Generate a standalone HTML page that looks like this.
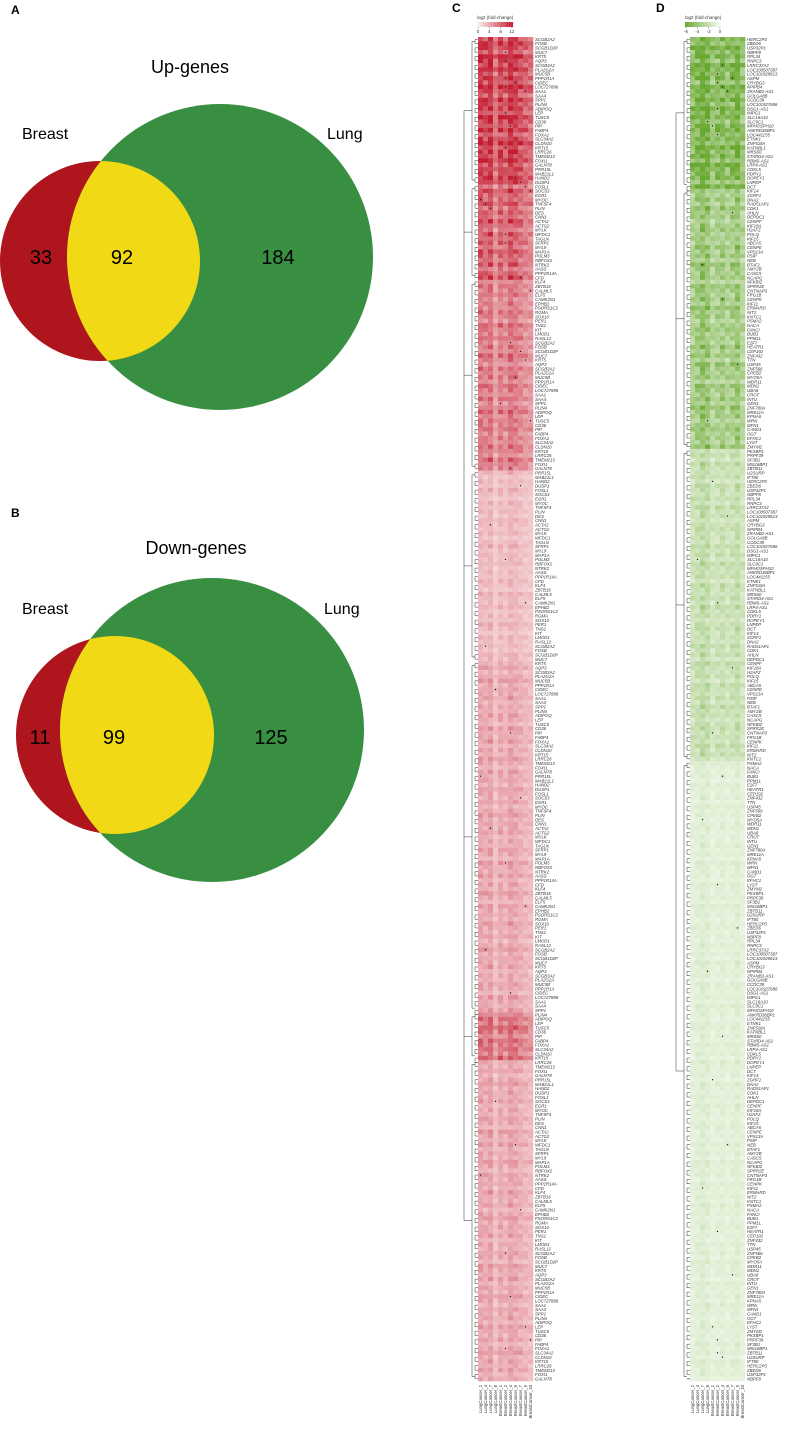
<!DOCTYPE html>
<html><head><meta charset="utf-8"><style>
body{margin:0;background:#fff;width:792px;height:1429px;overflow:hidden;font-family:"Liberation Sans",sans-serif}
svg{display:block}
</style></head><body>
<svg id="fig" width="792" height="1429" viewBox="0 0 792 1429" xmlns="http://www.w3.org/2000/svg">
<g>
<text x="11" y="14" font-size="12" font-weight="bold">A</text>
<text x="190" y="73" font-size="18" text-anchor="middle">Up-genes</text>
<circle cx="100" cy="261" r="100" fill="#ae151d"/>
<circle cx="220" cy="257" r="153" fill="#388f41"/>
<clipPath id="cA"><circle cx="100" cy="261" r="100"/></clipPath>
<circle cx="220" cy="257" r="153" fill="#f1d915" clip-path="url(#cA)"/>
<text x="22" y="139" font-size="16">Breast</text>
<text x="327" y="139" font-size="16">Lung</text>
<text x="41" y="264" font-size="20" text-anchor="middle">33</text>
<text x="122" y="264" font-size="20" text-anchor="middle">92</text>
<text x="278" y="264" font-size="20" text-anchor="middle">184</text>
</g>
<g>
<text x="11" y="517" font-size="12" font-weight="bold">B</text>
<text x="196" y="554" font-size="18" text-anchor="middle">Down-genes</text>
<circle cx="115" cy="735" r="99" fill="#ae151d"/>
<circle cx="212" cy="730" r="152" fill="#388f41"/>
<clipPath id="cB"><circle cx="115" cy="735" r="99"/></clipPath>
<circle cx="212" cy="730" r="152" fill="#f1d915" clip-path="url(#cB)"/>
<text x="22" y="614" font-size="16">Breast</text>
<text x="324" y="614" font-size="16">Lung</text>
<text x="40" y="744" font-size="20" text-anchor="middle">11</text>
<text x="114" y="744" font-size="20" text-anchor="middle">99</text>
<text x="271" y="744" font-size="20" text-anchor="middle">125</text>
</g>
<text x="452" y="12" font-size="12" font-weight="bold">C</text>
<text x="656" y="12" font-size="12" font-weight="bold">D</text>
<g id="hmC"></g>
<g id="hmD"></g>
</svg>
<script>
const columns=["LungCancer_1","LungCancer_4","LungCancer_7","LungCancer_8","BreastCancer_1","BreastCancer_2","BreastCancer_4","BreastCancer_5","BreastCancer_7","BreastCancer_9","BreastCancer_10"];
const upSegments=[[34,10],[22,8],[44,6.5],[44,3],[81,4],[11,7],[74,4]];
const upColBias=[1.05,0.95,1.1,0.7,1.0,0.85,1.1,1.0,0.9,0.8,0.75];
const upRowVar=[0.9,1.1,1.0,0.8,1.2,1.0,0.95,1.15,0.85,1.05,0.9,1.2,1.0,0.8,1.1,0.95,1.05,0.85,1.15,1.0,0.9,1.1,0.8,1.0,1.2,0.9,1.05,0.95,1.1,0.85,1.0];
const upCellVar=[1.0,0.85,1.15,0.95,1.1,0.8,1.05,1.2,0.9,1.0,0.88,1.12,0.97];
const downSegments=[[35,-5],[60,-3.5],[72,-2],[143,-0.9]];
const downColBias=[0.9,1.0,1.2,1.1,0.8,0.9,1.0,0.85,0.95,1.1,0.8];
const downRowVar=[1.0,0.85,1.15,0.9,1.1,0.8,1.2,1.0,0.95,1.05,0.75,1.15,1.0,0.9,1.1,0.85,1.2,0.95,1.05,0.8,1.0,1.1,0.9];
const downCellVar=[1.0,0.8,1.2,0.9,1.1,0.85,1.15,0.95,1.05,0.75,1.25];
const upTicks=["0","4","8","12"];
const downTicks=["-6","-4","-2","0"];
const upGenes=["SCGB2A2","FOSB","SCGB1D2P","MUC7","KRT5","AQP3","SCGB3A2","PLA2G2A","MUC5B","PPP1R1A","CIDEC","LOC727896","SAA1","SAA4","SPP1","PLIN4","ADIPOQ","LEP","TUSC5","CD36","PIP","FABP4","FOXA1","SLC34A2","CLDN10","KRT15","LRRC26","TMEM213","FOXI1","GALNT8","PRR15L","MAB21L1","HAND2","DUSP1","FOSL1","SOCS3","EGR1","MYOC","TNFSF4","PLIN","DES","CNN1","ACTA2","ACTG2","MYLK","WFDC1","TAGLN","SFRP1","MYL9","MAP1A","POLM3","RBFOX2","NTRK2","AASS","PPP1R14A","CFD","KLF4","ZBTB16","CALML5","ELF5","CAMK2N1","EPHB2","PSORS1C2","RGMA","SOX10","PER1","TNS1","KIT","LMOD1","RASL12"];
const downGenes=["HERC2P3","ZBED6","USP32P1","NBPF8","RPL34","RNPC3","LRRC37A2","LOC100507387","LOC101929613","ASPM","CRYBG3","NPIPB4","ZRANB2-AS1","GOLGA8B","CCDC39","LOC101927686","DSG1-AS1","IMPG1","SLC16A10","SLC9C1","MPHOSPH10","ANKRD36BP1","LOC441155","ETNK1","ZNF518A","KATNBL1","MRS60","STARD4-AS1","RBMS-AS1","LRP4-AS1","CDKL5","PDRY1","DOPEY1","LNPEP","DCT","KIF14","ZGRF1","DNA2","RAD51AP1","CDK1","AHLN","DEPDC1","CENPF","KIF18A","H2AFZ","POLQ","KIF15","ABCA5","CENPE","VPS13A","PSIP","NEB","BTAF1","AMY2B","CASC5","NCAPG","NFKBIZ","SPRR2E","CNTNAP3","FRG1B","CENPK","KIF11","ERMARD","NIT2","KNTC1","PSMA2","NACA","FANCI","BUB1","PPM1L","E2F7","HEATR1","CEP192","ZNF432","TTN","USP45","ZNF566","CPEB2","MYO5A","WDR11","MDN1","UBA6","CROT","INTU","GEN1","ZNF780A","MRE11A","KPNA5","WRN","MFN1","CAND1","OGT","EFHC1","LYST","ZMYM2","PKXBP1","PRPF39","SF3B1","MIS18BP1","ZBTB11","U2SURP","IFT80"];
const upDots=[[3,5],[5,5],[9,5],[10,7],[11,5],[12,9],[17,5],[20,6],[25,5],[32,7],[33,8],[34,9],[35,10],[37,0],[38,1],[39,2],[45,5],[47,5],[55,8],[58,10],[70,6],[72,8],[74,9],[78,7],[84,4],[88,10],[99,6],[103,8],[112,2],[120,5],[130,9],[140,1],[150,3],[160,6],[170,0],[175,8],[182,2],[190,5],[200,9],[210,1],[220,6],[245,3],[255,7],[262,0],[270,8],[280,5],[290,6],[297,9],[300,10],[302,5]];
const downDots=[[6,6],[8,5],[9,8],[10,5],[11,6],[12,7],[16,5],[19,3],[20,4],[22,5],[40,8],[52,2],[60,6],[75,9],[88,3],[102,4],[110,7],[120,1],[130,5],[145,8],[160,4],[170,6],[180,2],[195,5],[205,9],[215,3],[230,6],[240,4],[255,7],[265,2],[275,5],[285,8],[297,4],[303,5],[304,6],[300,5]];
const NS="http://www.w3.org/2000/svg";
function mk(tag,attrs,parent){const e=document.createElementNS(NS,tag);for(const k in attrs)e.setAttribute(k,attrs[k]);parent.appendChild(e);return e;}
function mix(c0,c1,t){t=Math.max(0,Math.min(1,t));const r=c0.map((v,i)=>Math.round(v+(c1[i]-v)*t));return `rgb(${r[0]},${r[1]},${r[2]})`;}
function draw(g,cfg){
  const rows=[];cfg.segments.forEach(s=>{for(let i=0;i<s[0];i++)rows.push(s[1]);});
  const nR=rows.length,nC=columns.length;
  const x0=cfg.x0,x1=cfg.x0+55,y0=37,y1=1381;
  const xs=c=>x0+(x1-x0)*c/nC, ys=r=>y0+(y1-y0)*r/nR;
  const cw=(x1-x0)/nC, rh=(y1-y0)/nR;
  const val=(r,c)=>rows[r]*cfg.bias[c]*cfg.rowVar[r%cfg.rowVar.length]*cfg.cellVar[(r*3+c)%cfg.cellVar.length];
  for(let r=0;r<nR;r++)for(let c=0;c<nC;c++){
    const v=val(r,c);
    const t=cfg.neg?Math.abs(v)/6:v/12;
    const e=mk('rect',{x:xs(c).toFixed(2),y:ys(r).toFixed(2),width:(cw+0.3).toFixed(2),height:(rh+0.3).toFixed(2),fill:mix(cfg.white,cfg.dark,t)},g);
    
    
  }
  cfg.dots.forEach(d=>{const e=mk('rect',{x:(xs(d[1])+cw/2-0.6).toFixed(2),y:(ys(d[0])+rh/2-0.6).toFixed(2),width:1.2,height:1.2,fill:'#111'},g);
    
    });
  for(let r=0;r<nR;r++){const t=mk('text',{x:x1+2,y:(ys(r)+rh*0.9).toFixed(2),'font-size':4.3,'font-style':'italic',fill:'#333'},g);
    t.textContent=cfg.genes[r%cfg.genes.length];
    
    }
  columns.forEach((n,c)=>{const x=xs(c)+cw/2+1.5;const t=mk('text',{x:x,y:y1+4,'font-size':4.3,fill:'#333','text-anchor':'end',transform:`rotate(-90 ${x} ${y1+4})`},g);
    t.textContent=n;
    
    });
  const dg=mk('g',{stroke:'#333','stroke-width':0.5,fill:'none'},g);
  
  
  let start=0;const mids=[];
  cfg.segments.forEach(s=>{const a=ys(start),b=ys(start+s[0]);const xb=x0-6;
    for(let r=start;r<start+s[0];r+=2){mk('path',{d:`M${x0} ${ys(r)+rh/2} H${xb+3} V${ys(Math.min(r+1,nR-1))+rh/2} H${x0}`},dg);}
    mk('path',{d:`M${xb+3} ${a+rh} H${xb} V${b-rh} H${xb+3}`},dg);mids.push((a+b)/2);start+=s[0];});
  mk('path',{d:`M${x0-6} ${mids[0]} H${x0-14} V${mids[mids.length-1]} H${x0-6}`},dg);
  for(let i=1;i<mids.length-1;i++)mk('path',{d:`M${x0-6} ${mids[i]} H${x0-14}`},dg);
  const lg=mk('g',{},g);
  
  
  const lt=mk('text',{x:cfg.lx,y:19,'font-size':4.5,fill:'#333'},lg);lt.textContent='log2 (fold-change)';
  for(let i=0;i<30;i++){const t=cfg.neg?1-i/29:i/29;mk('rect',{x:cfg.lx+i*1.2,y:22,width:1.3,height:5,fill:mix(cfg.white,cfg.dark,t)},lg);}
  cfg.ticks.forEach((tk,i)=>{const x=cfg.lx+1+i*11.3;mk('line',{x1:x,x2:x,y1:27,y2:28.5,stroke:'#333','stroke-width':0.4},lg);const t=mk('text',{x:x,y:33,'font-size':4.5,'text-anchor':'middle',fill:'#333'},lg);t.textContent=tk;});
}
draw(document.getElementById('hmC'),{x0:478,segments:upSegments,bias:upColBias,rowVar:upRowVar,cellVar:upCellVar,white:[252,240,240],dark:[196,28,48],neg:false,genes:upGenes,dots:upDots,ticks:upTicks,lx:477});
draw(document.getElementById('hmD'),{x0:690,segments:downSegments,bias:downColBias,rowVar:downRowVar,cellVar:downCellVar,white:[248,252,244],dark:[104,168,48],neg:true,genes:downGenes,dots:downDots,ticks:downTicks,lx:685});
</script>
</body></html>
